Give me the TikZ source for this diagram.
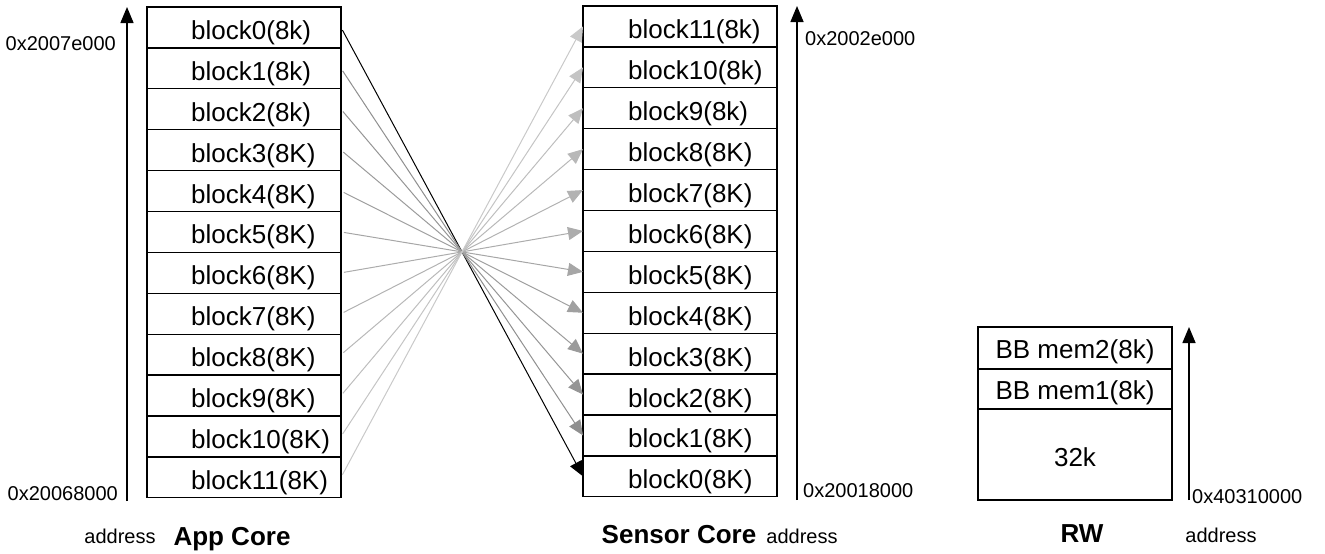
\documentclass[tikz,border=0pt]{standalone}
\usepackage{fontspec}
\setmainfont{Liberation Sans}
\usetikzlibrary{arrows.meta}
\begin{document}
\begin{tikzpicture}[x=1pt,y=-1pt,
  cell/.style={draw, line width=1.3pt, minimum width=194pt, inner sep=0pt, outer sep=0pt, anchor=north west},
  lbl/.style={font=\fontsize{26}{30}\selectfont, anchor=base west, inner sep=0pt},
  clbl/.style={font=\fontsize{26}{30}\selectfont, anchor=base, inner sep=0pt},
  addr/.style={font=\fontsize{20}{24}\selectfont, inner sep=0pt},
  ttl/.style={font=\bfseries\fontsize{26}{30}\selectfont, anchor=base, inner sep=0pt},
  axisarrow/.style={line width=1.5pt, -{Triangle[length=16pt,width=13pt]}},
  maparrow/.style={line width=1pt, -{Triangle[length=15pt,width=13pt]}, shorten <=3pt, shorten >=0pt}]
\useasboundingbox (0,0) rectangle (1325,554);

% App Core column
\foreach \i/\t in {0/block0(8k),1/block1(8k),2/block2(8k),3/block3(8K),4/block4(8K),5/block5(8K),6/block6(8K),7/block7(8K),8/block8(8K),9/block9(8K),10/block10(8K),11/block11(8K)}{
  \node[cell, minimum height=40.9pt] (a\i) at (147,{7+40.9*\i}) {};
  \node[lbl] (at\i) at ([xshift=44pt,yshift=-12pt]a\i.west) {\t};
}
% Sensor Core column
\foreach \i/\t in {11/block11(8k),10/block10(8k),9/block9(8k),8/block8(8K),7/block7(8K),6/block6(8K),5/block5(8K),4/block4(8K),3/block3(8K),2/block2(8K),1/block1(8K),0/block0(8K)}{
  \node[cell, minimum height=40.9pt] (s\i) at (583,{6+40.9*(11-\i)}) {};
  \node[lbl] (st\i) at ([xshift=45pt,yshift=-12.5pt]s\i.west) {\t};
}

% mapping arrows
\draw[maparrow, draw=black] (a0.east) -- (s0.west);
\foreach \i in {1,...,11}{
  \pgfmathsetmacro\g{44-2.3*(\i-1)}
  \draw[maparrow, draw=black!\g] (a\i.east) -- (s\i.west);
}

% address axes
\coordinate (la0) at (127,501);
\coordinate (la1) at (127,7);
\draw[axisarrow] (la0) -- (la1);
\coordinate (sa0) at (797,500);
\coordinate (sa1) at (797,6);
\draw[axisarrow] (sa0) -- (sa1);
\coordinate (ra0) at (1189,500);
\coordinate (ra1) at (1189,327);
\draw[axisarrow] (ra0) -- (ra1);

\node[addr, anchor=base east] (lhi) at (116,50) {0x2007e000};
\node[addr, anchor=base east] (llo) at (118,500) {0x20068000};
\node[addr, anchor=base west] (shi) at (805,45) {0x2002e000};
\node[addr, anchor=base west] (slo) at (803,497) {0x20018000};
\node[addr, anchor=base west] (rlo) at (1192,503) {0x40310000};

% RW column
\node[cell, minimum height=42pt] (r2) at (978,327) {};
\node[cell, minimum height=40pt] (r1) at (978,369) {};
\node[cell, minimum height=91pt] (r0) at (978,409) {};
\node[clbl] (rt2) at ([yshift=-10pt]r2.center) {BB mem2(8k)};
\node[clbl] (rt1) at ([yshift=-10pt]r1.center) {BB mem1(8k)};
\node[clbl] (rt0) at ([yshift=-12pt]r0.center) {32k};

% titles
\node[addr, anchor=base] (ad1) at (120,543) {address};
\node[ttl] (t1) at (232,545) {App Core};
\node[ttl] (t2) at (679,543) {Sensor Core};
\node[addr, anchor=base] (ad2) at (802,543) {address};
\node[ttl] (t3) at (1082,542) {RW};
\node[addr, anchor=base] (ad3) at (1221,542) {address};
\end{tikzpicture}
\end{document}
